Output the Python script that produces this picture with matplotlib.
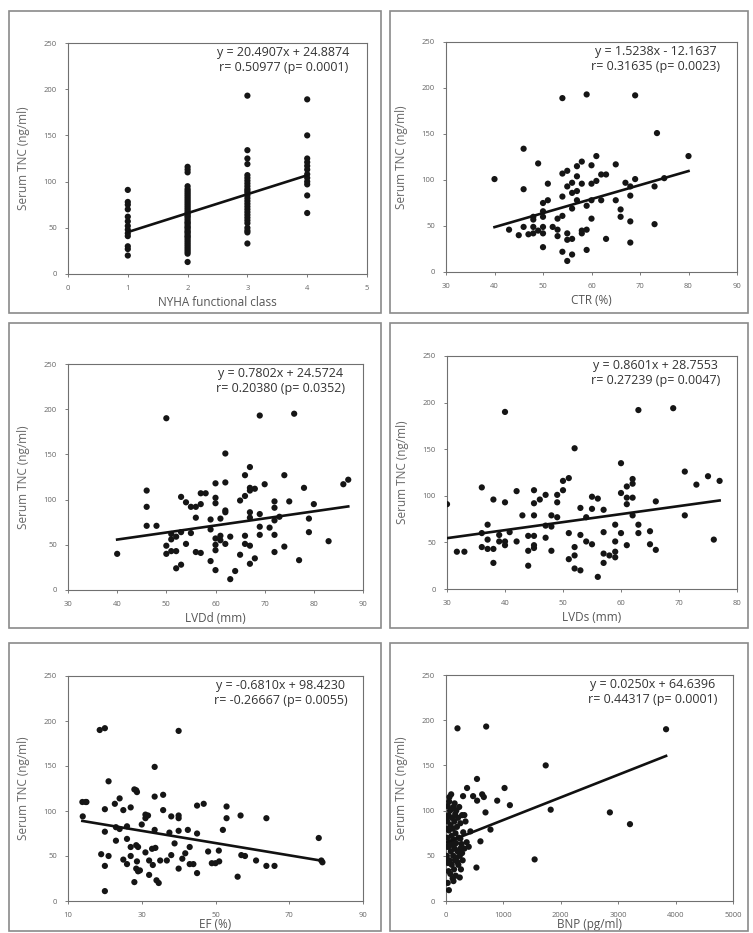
import matplotlib.pyplot as plt
from matplotlib.patches import Rectangle
import numpy as np

plt.rcParams['font.family'] = ['Open Sans', 'DejaVu Sans']

# ---- data ----
nyha_1 = [91, 78, 75, 70, 62, 57, 52, 48, 44, 41, 30, 27, 20]
nyha_2 = [116, 113, 110, 95, 92, 90, 88, 86, 84, 82, 80, 78, 76, 74, 72, 70, 68, 66,
          65, 63, 62, 60, 58, 56, 55, 53, 51, 50, 48, 46, 45, 43, 41, 40, 38, 36, 34,
          32, 30, 28, 26, 24, 22, 13]
nyha_3 = [193, 134, 125, 119, 107, 104, 101, 98, 95, 92, 90, 88, 85, 82, 79, 76, 73,
          70, 67, 64, 61, 58, 55, 50, 47, 45, 33]
nyha_4 = [189, 150, 125, 121, 117, 113, 108, 104, 100, 97, 85, 66]

ctr_x = [40, 43, 45, 46, 46, 46, 47, 48, 48, 48, 48, 49, 49, 50, 50, 50, 50, 50, 50,
         51, 51, 52, 53, 53, 53, 54, 54, 54, 54, 54, 55, 55, 55, 55, 55, 56, 56, 56, 56,
         56, 57, 57, 57, 57, 58, 58, 58, 58, 59, 59, 59, 59, 60, 60, 60, 60, 61, 61, 62,
         62, 63, 63, 65, 65, 66, 66, 67, 68, 68, 68, 68, 69, 69, 73.5, 73, 73, 75, 80]
ctr_y = [101, 46, 40, 90, 134, 49, 41, 42, 49, 57, 60, 45, 118, 60, 66, 75, 27, 49, 42,
         78, 96, 49, 46, 58, 39, 61, 82, 107, 189, 22, 110, 42, 35, 12, 93, 97, 36, 19, 69,
         86, 78, 104, 115, 88, 120, 42, 96, 45, 193, 72, 24, 46, 116, 96, 78, 58, 126, 99,
         106, 78, 106, 36, 117, 78, 68, 60, 97, 93, 83, 55, 32, 101, 192, 151, 93, 52, 102, 126]

lvdd_x = [40, 46, 46, 46, 48, 50, 50, 50, 51, 51, 51, 52, 52, 52, 53, 53, 53, 54, 54, 55,
          55, 56, 56, 56, 57, 57, 57, 58, 59, 59, 59, 60, 60, 60, 60, 60, 60, 60, 61, 61,
          61, 62, 62, 62, 62, 62, 63, 63, 64, 65, 65, 66, 66, 66, 66, 67, 67, 67, 67, 67,
          67, 67, 68, 68, 69, 69, 69, 69, 70, 71, 72, 72, 72, 72, 72, 73, 74, 74, 75, 76,
          77, 78, 79, 79, 80, 83, 86, 87]
lvdd_y = [40, 110, 92, 71, 71, 190, 49, 40, 62, 56, 43, 43, 24, 59, 103, 28, 64, 97, 51, 92,
          63, 80, 92, 42, 41, 95, 107, 107, 78, 67, 32, 118, 102, 96, 57, 50, 44, 22, 55, 79,
          60, 119, 88, 51, 151, 86, 59, 12, 21, 99, 39, 104, 127, 60, 51, 49, 136, 113, 86, 80,
          29, 110, 112, 35, 193, 84, 70, 61, 117, 69, 98, 91, 77, 61, 42, 81, 127, 48, 98, 195,
          33, 113, 79, 64, 95, 54, 117, 122]

lvds_x = [30, 31.7, 33, 36, 36, 36, 37, 37, 37, 38, 38, 38, 39, 39, 40, 40, 40, 40, 40.8,
          42, 42, 43, 44, 44, 44, 45, 45, 45, 45, 45, 45, 46, 47, 47, 47, 48, 48, 48, 49, 49,
          49, 50, 50, 51, 51, 51, 52, 52, 52, 52, 53, 53, 53, 54, 54, 55, 55, 55, 56, 56, 57,
          57, 57, 57, 58, 59, 59, 59, 59, 60, 60, 60, 61, 61, 61, 61, 62, 62, 62, 62, 63, 63,
          63, 65, 65, 66, 66, 69, 71, 71, 73, 75, 76, 77]
lvds_y = [91, 40, 40, 109, 60, 45, 69, 53, 43, 43, 28, 96, 58, 51, 190, 93, 47, 51, 61,
          105, 51, 79, 41, 57, 25, 106, 92, 79, 57, 47, 44, 96, 101, 68, 55, 79, 41, 67, 101,
          93, 77, 116, 106, 119, 60, 32, 151, 45, 36, 22, 58, 87, 20, 51, 77, 99, 86, 48, 97,
          13, 85, 61, 38, 28, 36, 69, 51, 40, 34, 135, 103, 60, 110, 98, 91, 47, 118, 113,
          98, 79, 192, 69, 60, 62, 48, 42, 94, 194, 126, 79, 112, 121, 53, 116]

ef_x = [13.9, 14.8, 15, 14, 18.6, 20, 20, 20, 20, 20, 19, 21, 21, 22.7, 23, 23, 24, 24,
        25, 25, 26, 26, 26, 27, 27, 27, 28, 28, 28.5, 28.7, 28.5, 28.5, 28.7, 29, 29, 29.5,
        30, 31, 31, 31, 31.7, 32, 32, 32.8, 33, 33.5, 33.5, 33.5, 33.7, 34, 34.6, 35, 35.8,
        35.8, 36.8, 37.5, 38, 38, 38.9, 40, 40, 40, 40, 40, 41, 41.8, 42.5, 43, 43, 44, 45,
        45, 45, 46.8, 48, 49, 50, 51, 50.9, 52, 53, 53, 56, 56.8, 57, 58, 61, 63.8, 63.8,
        66, 78, 79, 78.7]
ef_y = [110, 110, 110, 94, 190, 192, 102, 77, 39, 11, 52, 50, 133, 108, 82, 67, 114, 80,
        101, 46, 83, 41, 69, 104, 60, 50, 124, 21, 123, 121, 62, 36, 44, 33, 60, 34, 85, 96,
        54, 92, 95, 29, 45, 58, 40, 149, 116, 79, 59, 23, 20, 45, 118, 101, 45, 76, 51, 94,
        64, 95, 92, 78, 189, 36, 47, 53, 79, 60, 41, 41, 75, 106, 31, 108, 55, 42, 42, 44,
        56, 79, 105, 92, 27, 95, 51, 50, 45, 92, 39, 39, 70, 43, 45]

bnp_x = [200, 700, 1737, 1824, 1544, 2855, 3205, 3834, 540, 367, 297, 630, 659, 542, 472,
         892, 1020, 1113, 688, 775, 600, 530, 425, 396, 320, 250, 280,
         15, 20, 25, 30, 35, 40, 45, 50, 55, 60, 65, 70, 75, 80, 85, 90, 95, 100, 105, 110,
         115, 120, 125, 130, 135, 140, 145, 150, 155, 160, 165, 170, 175, 180, 185, 190, 200,
         210, 215, 220, 230, 240, 250, 260, 270, 280, 290, 300, 320, 340, 360, 30, 50, 60, 45,
         110, 130, 150, 200, 250, 240, 12, 18, 22, 10]
bnp_y = [191, 193, 150, 101, 46, 98, 85, 190, 135, 125, 116, 118, 115, 111, 116,
         111, 125, 106, 98, 79, 66, 37, 77, 60, 95, 69, 53,
         50, 70, 88, 105, 42, 60, 95, 78, 110, 45, 65, 100, 30, 84, 55, 118, 72, 40, 92, 62,
         25, 80, 50, 104, 68, 35, 88, 58, 45, 96, 75, 28, 64, 100, 48, 82, 55,
         92, 40, 70, 104, 50, 86, 35, 63, 95, 45, 76, 58, 88, 65, 20, 12, 115, 33,
         102, 22, 108, 43, 58, 26, 92, 80, 60, 45]

# fitted lines as printed on each panel: (slope, intercept)
fits = [(20.4907, 24.8874), (1.5238, -12.1637), (0.7802, 24.5724),
        (0.8601, 28.7553), (-0.6810, 98.4230), (0.0250, 64.6396)]
notes = ["y = 20.4907x + 24.8874\nr= 0.50977 (p= 0.0001)",
         "y = 1.5238x - 12.1637\nr= 0.31635 (p= 0.0023)",
         "y = 0.7802x + 24.5724\nr= 0.20380 (p= 0.0352)",
         "y = 0.8601x + 28.7553\nr= 0.27239 (p= 0.0047)",
         "y = -0.6810x + 98.4230\nr= -0.26667 (p= 0.0055)",
         "y = 0.0250x + 64.6396\nr= 0.44317 (p= 0.0001)"]
xlabels = ["NYHA functional class", "CTR (%)", "LVDd (mm)", "LVDs (mm)", "EF (%)", "BNP (pg/ml)"]
xticks = [[0, 1, 2, 3, 4, 5], [30, 40, 50, 60, 70, 80, 90], [30, 40, 50, 60, 70, 80, 90],
          [30, 40, 50, 60, 70, 80], [10, 30, 50, 70, 90], [0, 1000, 2000, 3000, 4000, 5000]]

nyha_x = [1] * len(nyha_1) + [2] * len(nyha_2) + [3] * len(nyha_3) + [4] * len(nyha_4)
nyha_y = nyha_1 + nyha_2 + nyha_3 + nyha_4
xs = [nyha_x, ctr_x, lvdd_x, lvds_x, ef_x, bnp_x]
ys = [nyha_y, ctr_y, lvdd_y, lvds_y, ef_y, bnp_y]

W, H = 753, 933
fig = plt.figure(figsize=(W / 100, H / 100), dpi=100)
fig.patch.set_facecolor('white')

# panel frames (left, right, top, bottom) in pixels
frames = [(9, 381, 11, 313), (390, 748, 11, 313),
          (9, 381, 323, 628), (390, 748, 323, 628),
          (9, 381, 643, 931), (390, 748, 643, 931)]
for l, r, t, b in frames:
    fig.patches.append(Rectangle((l / W, 1 - b / H), (r - l) / W, (b - t) / H,
                                 transform=fig.transFigure, fill=False,
                                 edgecolor='#8a8a8a', linewidth=1.2))

# axes boxes (left, right, top, bottom) in pixels
boxes = [(68, 367, 43, 274), (446, 737, 42, 272),
         (68, 363, 364, 590), (447, 737, 356, 589),
         (68, 363, 676, 901), (446, 733, 675, 901)]

for i in range(6):
    l, r, t, b = boxes[i]
    ax = fig.add_axes([l / W, 1 - b / H, (r - l) / W, (b - t) / H])
    x = np.array(xs[i], dtype=float)
    y = np.array(ys[i], dtype=float)
    ax.scatter(x, y, s=20, color='#151515', edgecolors='none', zorder=3)
    m, c = fits[i]
    xl = np.array([x.min(), x.max()])
    ax.plot(xl, m * xl + c, color='#111111', lw=1.9, zorder=4)

    ax.set_xlim(xticks[i][0], xticks[i][-1])
    ax.set_ylim(0, 250)
    ax.set_xticks(xticks[i])
    ax.set_yticks([0, 50, 100, 150, 200, 250])
    ax.tick_params(labelsize=5.5, colors='#666666', length=2, width=0.6, pad=6)
    for s in ax.spines.values():
        s.set_color('#707070')
        s.set_linewidth(0.8)
    ax.set_xlabel(xlabels[i], fontsize=8.5, color='#555555')
    ax.set_ylabel("Serum TNC (ng/ml)", fontsize=8.5, color='#666666')
    # place labels at pixel distances from the axes
    if i < 4:
        ax.xaxis.set_label_coords(0.5, -22 / (b - t))
        ax.xaxis.label.set_va('top')
    else:
        # bottom row: keep the label inside the picture
        ax.xaxis.set_label_coords(0.5, -(H - 2 - b) / (b - t))
        ax.xaxis.label.set_va('bottom')
    ax.yaxis.set_label_coords(-38 / (r - l), 0.5)
    ax.text(0.72, 0.985, notes[i], transform=ax.transAxes, ha='center', va='top',
            multialignment='center', fontsize=9, color='#333333', linespacing=1.15)

fig.savefig('out.png', dpi=100, facecolor='white')
